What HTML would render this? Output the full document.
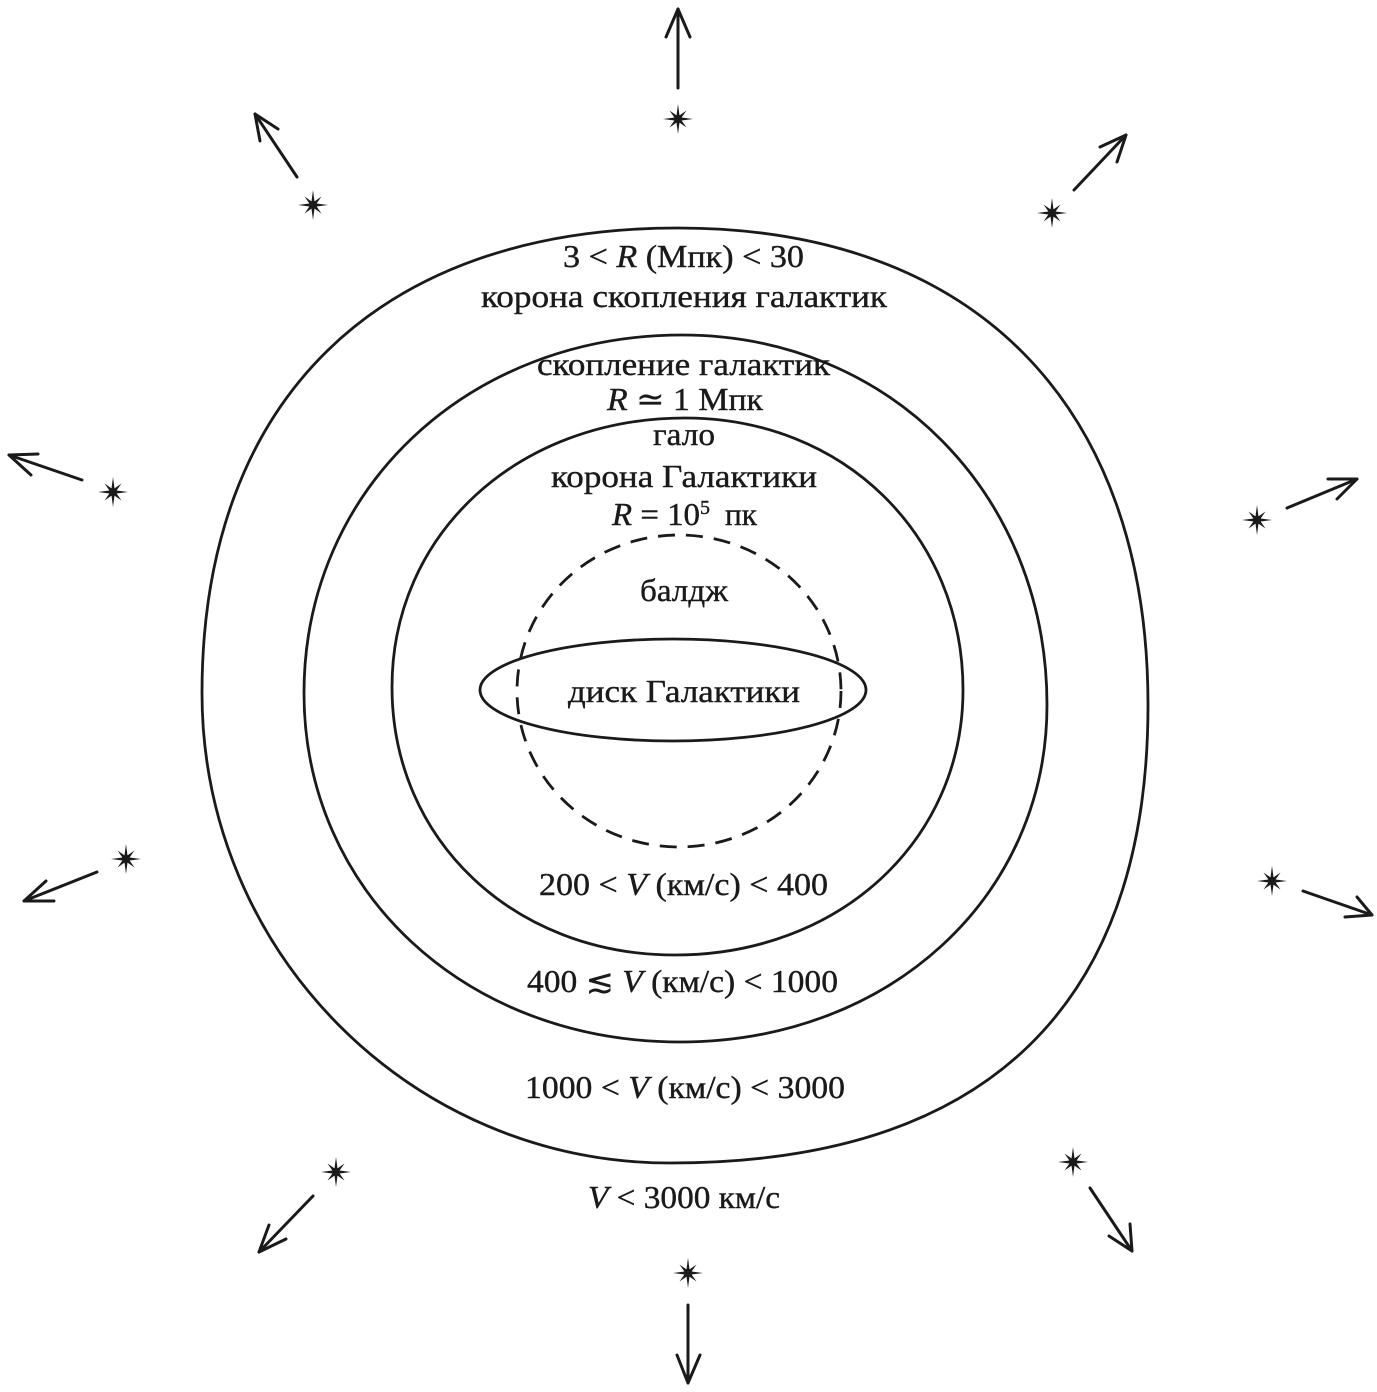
<!DOCTYPE html>
<html>
<head>
<meta charset="utf-8">
<style>
  html, body { margin: 0; padding: 0; background: #fff; }
  svg { display: block; }
  text { font-family: "Liberation Serif", "DejaVu Serif", serif; font-size: 32px; fill: #1a1a1a; stroke: #1a1a1a; stroke-width: 0.4px; }
  .it { font-style: italic; }
</style>
</head>
<body>
<svg width="1377" height="1392" viewBox="0 0 1377 1392" xmlns="http://www.w3.org/2000/svg">
  <defs>
    <g id="star">
      <polygon points="0,-15 1.5,-3.6 8.5,-8.5 3.6,-1.5 15,0 3.6,1.5 8.5,8.5 1.5,3.6 0,15 -1.5,3.6 -8.5,8.5 -3.6,1.5 -15,0 -3.6,-1.5 -8.5,-8.5 -1.5,-3.6" fill="#1a1a1a"/>
      <circle cx="0" cy="0" r="4" fill="#1a1a1a"/>
    </g>
  </defs>
  <rect x="0" y="0" width="1377" height="1392" fill="#fff"/>

  <g fill="none" stroke="#1a1a1a" stroke-width="2.8">
    <!-- outer shape -->
    <path d="M 678,228 C 974,228 1148,404.5 1148,705 C 1148,1007 985.5,1163 670,1163 C 411.5,1163 202,952.6 202,693 C 202,400 378,228 678,228 Z"/>
    <!-- middle -->
    <path d="M 682,335 C 889,335 1047,494 1047,705 C 1047,897 889,1042 680,1042 C 466,1042 304,892 304,693 C 304,489 468,335 682,335 Z"/>
    <!-- inner -->
    <path d="M 685,418 C 843.5,418 963,535 963,690 C 963,841 839,955 675,955 C 513.7,955 392,840 392,687 C 392,533.7 518,418 685,418 Z"/>
    <!-- bulge dashed -->
    <ellipse cx="679" cy="691" rx="162" ry="156" stroke-dasharray="17 11"/>
    <!-- disk -->
    <ellipse cx="673" cy="690" rx="193" ry="51"/>
  </g>

  <!-- arrows -->
  <g fill="none" stroke="#1a1a1a" stroke-width="3" stroke-linecap="round" stroke-linejoin="round">
    <line x1="678" y1="88" x2="678" y2="9"/>
    <polyline points="666,37 678,9 690,37"/>

    <line x1="297" y1="177" x2="255" y2="114"/>
    <polyline points="260,141 255,114 278,129"/>

    <line x1="1074" y1="190" x2="1126" y2="135"/>
    <polyline points="1100,147 1126,135 1117,162"/>

    <line x1="82" y1="480" x2="9" y2="455"/>
    <polyline points="38,454 9,455 31,475"/>

    <line x1="1287" y1="508" x2="1357" y2="479"/>
    <polyline points="1328,479 1357,479 1337,499"/>

    <line x1="97" y1="872" x2="24" y2="901"/>
    <polyline points="46,881 24,901 54,901"/>

    <line x1="1303" y1="891" x2="1372" y2="915"/>
    <polyline points="1357,897 1372,915 1345,917"/>

    <line x1="313" y1="1196" x2="259" y2="1252"/>
    <polyline points="269,1225 259,1252 286,1239"/>

    <line x1="1090" y1="1188" x2="1132" y2="1251"/>
    <polyline points="1109,1236 1132,1251 1130,1224"/>

    <line x1="688" y1="1305" x2="688" y2="1383"/>
    <polyline points="677,1355 688,1383 700,1355"/>
  </g>

  <!-- stars -->
  <use href="#star" x="678" y="119"/>
  <use href="#star" x="313" y="205"/>
  <use href="#star" x="1052" y="213"/>
  <use href="#star" x="113" y="492"/>
  <use href="#star" x="1257" y="520"/>
  <use href="#star" x="126" y="859"/>
  <use href="#star" x="1272" y="881"/>
  <use href="#star" x="336" y="1172"/>
  <use href="#star" x="1073" y="1162"/>
  <use href="#star" x="688" y="1273"/>

  <!-- labels -->
  <text x="563" y="267" textLength="241" lengthAdjust="spacingAndGlyphs">3 &lt; <tspan class="it">R</tspan> (Мпк) &lt; 30</text>
  <text x="481" y="307" textLength="406" lengthAdjust="spacingAndGlyphs">корона скопления галактик</text>
  <text x="537" y="375" textLength="293" lengthAdjust="spacingAndGlyphs">скопление галактик</text>
  <text x="607" y="410" textLength="156" lengthAdjust="spacingAndGlyphs"><tspan class="it">R</tspan> ≃ 1 Мпк</text>
  <text x="653" y="445" textLength="62" lengthAdjust="spacingAndGlyphs">гало</text>
  <text x="551" y="487" textLength="266" lengthAdjust="spacingAndGlyphs">корона Галактики</text>
  <text x="612" y="525" textLength="88" lengthAdjust="spacingAndGlyphs"><tspan class="it">R</tspan> = 10</text>
  <text x="700" y="514" style="font-size:20px">5</text>
  <text x="725" y="525" textLength="32" lengthAdjust="spacingAndGlyphs">пк</text>
  <text x="640" y="601" textLength="88" lengthAdjust="spacingAndGlyphs">балдж</text>
  <text x="568" y="702" textLength="232" lengthAdjust="spacingAndGlyphs">диск Галактики</text>
  <text x="539" y="895" textLength="289" lengthAdjust="spacingAndGlyphs">200 &lt; <tspan class="it">V</tspan> (км/с) &lt; 400</text>
  <text x="527" y="992" textLength="311" lengthAdjust="spacingAndGlyphs">400 ≲ <tspan class="it">V</tspan> (км/с) &lt; 1000</text>
  <text x="525" y="1098" textLength="320" lengthAdjust="spacingAndGlyphs">1000 &lt; <tspan class="it">V</tspan> (км/с) &lt; 3000</text>
  <text x="588" y="1208" textLength="192" lengthAdjust="spacingAndGlyphs"><tspan class="it">V</tspan> &lt; 3000 км/с</text>
</svg>
</body>
</html>
